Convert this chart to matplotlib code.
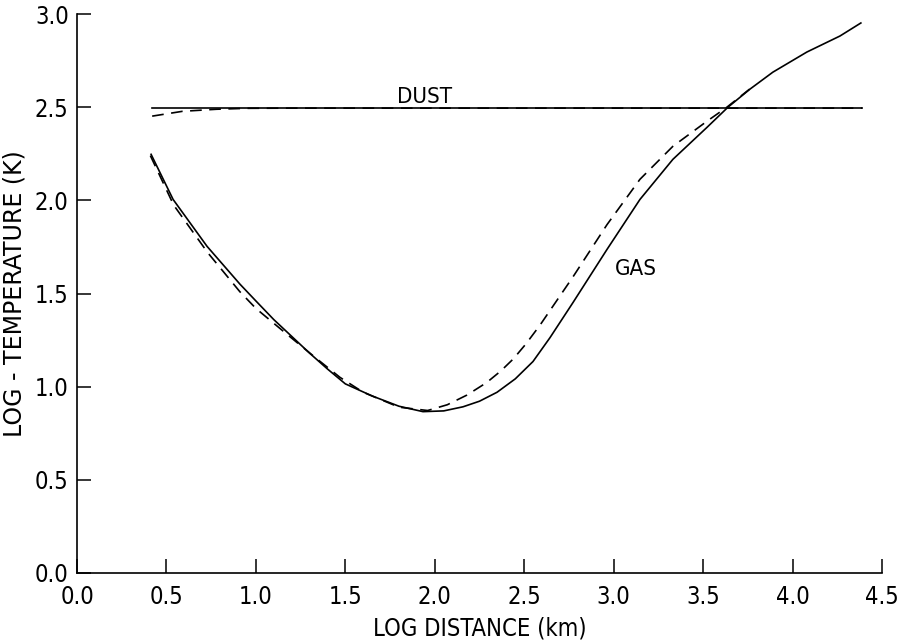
import matplotlib.pyplot as plt

# Gas temperature, solid curve
gas_x = [0.414, 0.537, 0.727, 0.911, 1.0, 1.1, 1.2, 1.3, 1.4, 1.5, 1.65, 1.8,
         1.934, 2.05, 2.158, 2.25, 2.348, 2.45, 2.549, 2.644, 2.773, 2.963, 3.147,
         3.331, 3.522, 3.639, 3.762, 3.89, 4.08, 4.265, 4.382]
gas_y = [2.247, 2.005, 1.753, 1.55, 1.46, 1.36, 1.27, 1.18, 1.095, 1.015, 0.95, 0.895,
         0.866, 0.87, 0.892, 0.922, 0.97, 1.042, 1.135, 1.263, 1.452, 1.737, 2.005,
         2.22, 2.392, 2.5, 2.597, 2.688, 2.796, 2.882, 2.952]

# Gas temperature, dashed curve
gas2_x = [0.41, 0.54, 0.73, 0.91, 1.0, 1.15, 1.34, 1.47, 1.6, 1.8, 1.96, 2.07,
          2.18, 2.29, 2.37, 2.44, 2.51, 2.588, 2.773, 2.963, 3.147, 3.331, 3.522,
          3.633, 3.76]
gas2_y = [2.24, 1.975, 1.72, 1.51, 1.42, 1.30, 1.15, 1.05, 0.97, 0.89, 0.872, 0.903,
          0.955, 1.022, 1.085, 1.15, 1.23, 1.33, 1.59, 1.87, 2.113, 2.29, 2.425,
          2.5, 2.597]

# Dust temperature
dust_x = [0.42, 4.39]
dust_y = [2.495, 2.495]
dust2_x = [0.42, 0.59, 0.78, 0.95, 1.2, 4.39]
dust2_y = [2.452, 2.478, 2.489, 2.494, 2.495, 2.495]

xticks = [0.0, 0.5, 1.0, 1.5, 2.0, 2.5, 3.0, 3.5, 4.0, 4.5]
yticks = [0.0, 0.5, 1.0, 1.5, 2.0, 2.5, 3.0]

plt.rcParams['font.family'] = ['DejaVu Sans']
plt.rcParams['font.stretch'] = 'condensed'

fig = plt.figure(figsize=(9.02, 6.41), dpi=100)
ax = fig.add_axes([0.0854, 0.1061, 0.8924, 0.8720])

ax.plot(gas_x, gas_y, color='black', lw=1.2)
ax.plot(gas2_x, gas2_y, color='black', lw=1.2, linestyle=(0, (7, 4.5)))
ax.plot(dust_x, dust_y, color='black', lw=1.2)
ax.plot(dust2_x, dust2_y, color='black', lw=1.2, linestyle=(0, (7, 4.5)))

ax.text(1.945, 2.555, 'DUST', fontsize=16, ha='center', va='center')
ax.text(3.125, 1.634, 'GAS', fontsize=16, ha='center', va='center')

ax.set_xlim(0, 4.5)
ax.set_ylim(0, 3.0)
ax.set_xticks(xticks)
ax.set_yticks(yticks)
ax.set_xticklabels([f'{t:.1f}' for t in xticks])
ax.set_yticklabels([f'{t:.1f}' for t in yticks])
ax.tick_params(direction='in', length=10, width=1.1, labelsize=17, pad=6)
ax.tick_params(axis='x', pad=9)

for side in ['top', 'right']:
    ax.spines[side].set_visible(False)
for side in ['left', 'bottom']:
    ax.spines[side].set_linewidth(1.2)

ax.set_xlabel('LOG DISTANCE (km)', fontsize=17, labelpad=5)
ax.set_ylabel('LOG - TEMPERATURE (K)', fontsize=17, fontstretch='normal', labelpad=6)

fig.savefig('out.png', dpi=100)
